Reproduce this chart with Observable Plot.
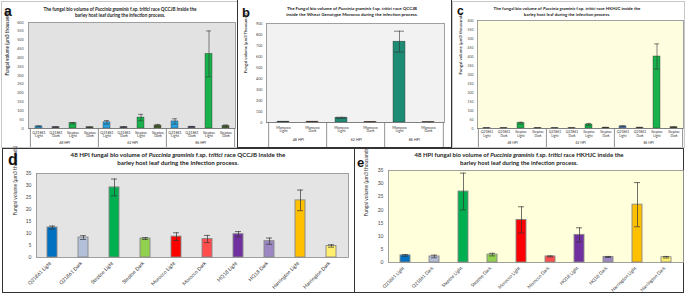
<!DOCTYPE html>
<html><head><meta charset="utf-8">
<script src="https://cdn.jsdelivr.net/npm/d3@7"></script>
<script src="https://cdn.jsdelivr.net/npm/@observablehq/plot@0.6"></script>
<style>
body{margin:0;background:#fff;}
#fig{position:relative;width:685px;height:294px;overflow:hidden;background:#fff;font-family:Lato,"Open Sans",sans-serif;}
.panel{position:absolute;box-sizing:border-box;overflow:hidden;}
.ttl{position:absolute;text-align:center;font-weight:bold;white-space:nowrap;color:#222;font-family:Lato,sans-serif;line-height:1.35;transform:translateX(-50%);}
.lbl{position:absolute;font-family:"Liberation Sans",Arial,sans-serif;font-weight:bold;color:#111;line-height:1;}
.chart{position:absolute;}
</style></head><body><div id="fig"></div>
<script>
// ---------- data ----------
const hpiGroups = ["48 HPI", "62 HPI", "86 HPI"];
const barleyCats = ["Q21861 Light", "Q21861 Dark", "Steptoe Light", "Steptoe Dark"];
const moroccoCats = ["Morocco Light", "Morocco Dark"];
// panel a (QCCJB in barley), order: group x category
const aMean = [12, 8, 30, 7,   35, 8, 62, 17,   40, 10, 422, 15];
const aErr  = [2, 1, 4, 1,     10, 2, 18, 6,    15, 2, 130, 5];
const aTicks = [0, 50, 100, 150, 200, 250, 300, 350, 400, 450, 500, 550, 600];
// panel b (QCCJB in Morocco)
const bMean = [8, 8,   42, 5,   735, 3];
const bErr  = [1, 1,   6, 1,    95, 1];
const bTicks = [0, 100, 200, 300, 400, 500, 600, 700, 800, 900];
// panel c (HKHJC in barley)
const cMean = [2, 2, 30, 2,   2, 2, 22, 5,   12, 5, 400, 7];
const cErr  = [0.5, 0.5, 5, 0.5,   0.5, 0.5, 6, 1,   2, 1, 70, 1.5];
const cTicks = aTicks;
// panels d, e (48 HPI)
const genotypes = ["Q21861 Light", "Q21861 Dark", "Steptoe Light", "Steptoe Dark", "Morocco Light", "Morocco Dark", "HQ18 Light", "HQ18 Dark", "Harrington Light", "Harrington Dark"];
const dMean = [12.5, 8.3, 29.2, 7.9, 8.7, 7.7, 9.7, 6.8, 23.8, 4.8];
const dErr  = [0.6, 0.8, 3.5, 0.4, 1.6, 1.5, 1.1, 1.3, 4.3, 0.5];
const eMean = [2.7, 2.3, 27.0, 3.0, 16.2, 2.3, 10.5, 2.1, 22.0, 2.0];
const eErr  = [0.3, 0.5, 7.0, 0.5, 5.0, 0.2, 2.7, 0.2, 8.4, 0.3];
const deTicks = [0, 5, 10, 15, 20, 25, 30, 35];

// ---------- styles ----------
const aColors = ["#29a3e0", "#6e5e80", "#18b14b", "#4d6b34"];
const bColors = ["#1e8c74", "#c85a20"];
const cColors = ["#4f81bd", "#8c6a3c", "#18b14b", "#4b5b2b"];
const deColors = ["#0070c0", "#b4bfd9", "#00b050", "#92d050", "#ff0000", "#ff4d4d", "#7030a0", "#9d87c2", "#ffc000", "#ffef6e"];
const FONT = "Lato, 'Open Sans', sans-serif";

const fig = document.getElementById("fig");
function addDiv(cls, css, html) {
  const d = document.createElement("div");
  d.className = cls; Object.assign(d.style, css); d.innerHTML = html || "";
  fig.appendChild(d); return d;
}
function place(svg, left, top) {
  svg.classList.add("chart");
  svg.style.left = left + "px"; svg.style.top = top + "px";
  fig.appendChild(svg);
}

function grouped(o) {
  const rows = [];
  o.groups.forEach((g, gi) => o.cats.forEach((c, ci) => {
    const i = gi * o.cats.length + ci;
    rows.push({key: g + "|" + c, g, c, v: o.mean[i], e: o.err[i]});
  }));
  const keys = rows.map(r => r.key);
  const step = (o.width - o.ml - o.mr) / keys.length;
  const firsts = o.groups.map(g => keys.find(k => k.startsWith(g + "|")));
  const mids = o.groups.map(g => keys.filter(k => k.startsWith(g + "|"))[o.cats.length / 2 - 1]);
  const lastKey = [keys[keys.length - 1]];
  return Plot.plot({
    width: o.width, height: o.height,
    marginLeft: o.ml, marginRight: o.mr, marginTop: o.mt, marginBottom: o.mb,
    style: {fontFamily: FONT, background: "transparent", overflow: "visible", color: "#333"},
    x: {domain: keys, axis: null, paddingInner: 0.6, paddingOuter: 0.3},
    y: {domain: [0, o.ymax], axis: null},
    color: {domain: o.cats, range: o.colors},
    marks: [
      Plot.frame({fill: o.bg, stroke: "#8a8a8a", strokeWidth: 0.8}),
      Plot.text(o.ticks, {x: null, y: d => d, frameAnchor: "left", textAnchor: "end", dx: -o.tickPad, fontSize: o.fs, fill: "#444"}),
      Plot.barY(rows, {x: "key", y: "v", fill: "c", stroke: "#333", strokeWidth: 0.4}),
      Plot.ruleX(rows, {x: "key", y1: d => d.v - d.e, y2: d => d.v + d.e, stroke: "#333", strokeWidth: 0.6}),
      Plot.tickY(rows, {x: "key", y: d => d.v + d.e, stroke: "#333", strokeWidth: 0.6, insetLeft: 1, insetRight: 1}),
      Plot.tickY(rows, {x: "key", y: d => d.v - d.e, stroke: "#333", strokeWidth: 0.6, insetLeft: 1, insetRight: 1}),
      Plot.ruleY([0], {stroke: "#777", strokeWidth: 0.8}),
      Plot.text(rows, {x: "key", y: 0, text: d => d.c.replace(" ", "\n"), lineAnchor: "top", dy: o.catDy, fontSize: o.fs, fill: "#333"}),
      Plot.text(o.groups, {x: (d, i) => mids[i], y: 0, dx: o.cats.length % 2 === 0 ? step / 2 : 0, dy: o.grpDy, lineAnchor: "top", fontSize: o.fs, fill: "#333"}),
      Plot.ruleX(firsts, {x: d => d, y1: 0, y2: 0, dx: -step / 2, insetBottom: -o.divExt, stroke: "#777", strokeWidth: 0.8}),
      Plot.ruleX(lastKey, {x: d => d, y1: 0, y2: 0, dx: step / 2, insetBottom: -o.divExt, stroke: "#777", strokeWidth: 0.8}),
      Plot.text([o.ylabel], {frameAnchor: "left", rotate: -90, dx: -o.labOff, fontSize: o.yfs, fontWeight: "bold", fill: "#333"})
    ]
  });
}

function simple(o) {
  const rows = o.cats.map((c, i) => ({c, v: o.mean[i], e: o.err[i]}));
  return Plot.plot({
    width: o.width, height: o.height,
    marginLeft: o.ml, marginRight: o.mr, marginTop: o.mt, marginBottom: o.mb,
    style: {fontFamily: FONT, background: "transparent", overflow: "visible", color: "#333"},
    x: {domain: o.cats, axis: null, paddingInner: 0.67, paddingOuter: 0.335},
    y: {domain: [0, o.ymax], axis: null},
    color: {domain: o.cats, range: o.colors},
    marks: [
      Plot.frame({fill: o.bg, stroke: "#8a8a8a", strokeWidth: 0.8}),
      Plot.text(o.ticks, {x: null, y: d => d, frameAnchor: "left", textAnchor: "end", dx: -o.tickPad, fontSize: o.fs, fill: "#444"}),
      Plot.barY(rows, {x: "c", y: "v", fill: "c", stroke: "#888", strokeWidth: 0.9}),
      Plot.ruleX(rows, {x: "c", y1: d => d.v - d.e, y2: d => d.v + d.e, stroke: "#333", strokeWidth: 0.7}),
      Plot.tickY(rows, {x: "c", y: d => d.v + d.e, stroke: "#333", strokeWidth: 0.7, insetLeft: 2, insetRight: 2}),
      Plot.tickY(rows, {x: "c", y: d => d.v - d.e, stroke: "#333", strokeWidth: 0.7, insetLeft: 2, insetRight: 2}),
      Plot.text(rows, {x: "c", y: 0, text: "c", rotate: -45, textAnchor: "end", dx: -2, dy: 5, fontSize: o.xfs, fill: "#333"}),
      Plot.text([o.ylabel], {frameAnchor: "left", rotate: -90, dx: -o.labOff, fontSize: o.yfs, fill: "#333"})
    ]
  });
}

// ---------- frames ----------
addDiv("panel", {left: "1px", top: "1px", width: "237px", height: "147px", border: "1px solid #c8c8c8"});
addDiv("panel", {left: "452px", top: "1px", width: "233px", height: "147px", border: "1px solid #c8c8c8"});
addDiv("panel", {left: "2px", top: "148px", width: "353px", height: "145px", border: "1px solid #333"});
addDiv("panel", {left: "354px", top: "148px", width: "330px", height: "145px", border: "1px solid #333"});

// ---------- panel a ----------
place(grouped({groups: hpiGroups, cats: barleyCats, mean: aMean, err: aErr, colors: aColors, ticks: aTicks, ymax: 600,
  width: 237, height: 130, ml: 28, mr: 2, mt: 4, mb: 20, bg: "#e2e2e2", fs: 3.6, yfs: 4.6, tickPad: 5, labOff: 21,
  catDy: 2.5, grpDy: 12.5, divExt: 19, ylabel: "Fungal volume (μm3 thousands)"}), 0, 18);

// ---------- panel b (white bg with dark frame, drawn over a's right edge) ----------
addDiv("panel", {left: "237px", top: "0px", width: "215px", height: "148px", border: "1px solid #333", borderTop: "none", background: "#fff"});
place(grouped({groups: hpiGroups, cats: moroccoCats, mean: bMean, err: bErr, colors: bColors, ticks: bTicks, ymax: 900,
  width: 213, height: 130, ml: 29, mr: 6, mt: 5, mb: 26, bg: "#f2f2f2", fs: 3.7, yfs: 4.2, tickPad: 4, labOff: 21,
  catDy: 3.5, grpDy: 16, divExt: 25, ylabel: "Fungal volume (μm3 Thousands)"}), 237, 18);

// ---------- panel c ----------
place(grouped({groups: hpiGroups, cats: barleyCats, mean: cMean, err: cErr, colors: cColors, ticks: cTicks, ymax: 600,
  width: 230, height: 130, ml: 22, mr: 2, mt: 2, mb: 20, bg: "#fefde0", fs: 3.4, yfs: 4.4, tickPad: 4, labOff: 17,
  catDy: 2.5, grpDy: 13, divExt: 19, ylabel: "Fungal volume (μm3 thousands)"}), 455, 18);

// ---------- panel d ----------
place(simple({cats: genotypes, mean: dMean, err: dErr, colors: deColors, ticks: deTicks, ymax: 35,
  width: 353, height: 124, ml: 36, mr: 5, mt: 5, mb: 35, bg: "#e4e4e4", fs: 5, xfs: 5, yfs: 5, tickPad: 5, labOff: 21,
  ylabel: "Fungal volume (μm3 thousands)"}), 0, 168);

// ---------- panel e ----------
place(simple({cats: genotypes, mean: eMean, err: eErr, colors: deColors, ticks: deTicks, ymax: 35,
  width: 330, height: 127, ml: 33, mr: 2, mt: 5, mb: 30, bg: "#ffffdc", fs: 5, xfs: 4.6, yfs: 5, tickPad: 5, labOff: 22,
  ylabel: "Fungal volume (μm3 thousands)"}), 355, 165);

// ---------- titles & letters ----------
addDiv("ttl", {left: "120px", top: "6px", fontSize: "4.6px"},
  "The fungal bio volume of <i>Puccinia graminis</i> f.sp. <i>tritici</i> race QCCJB inside the<br>barley host leaf during the infection process.");
addDiv("ttl", {left: "352px", top: "6px", fontSize: "4.5px"},
  "The Fungal bio volume of <i>Puccinia graminis</i> f.sp. <i>tritici</i> race QCCJB<br>inside the Wheat Genotype Morocco during the infection process.");
addDiv("ttl", {left: "567px", top: "6px", fontSize: "4.4px"},
  "The fungal bio volume of <i>Puccinia graminis</i> f.sp. <i>tritici</i> race HKHJC inside the<br>barley host leaf during the infection process.");
addDiv("ttl", {left: "178px", top: "151px", fontSize: "6.2px"},
  "48 HPI fungal bio volume of <i>Puccinia graminis</i> f.sp. <i>tritici</i> race QCCJB inside the<br>barley host leaf during the infection process.");
addDiv("ttl", {left: "519px", top: "151px", fontSize: "6px"},
  "48 HPI fungal bio volume of <i>Puccinia graminis</i> f.sp. <i>tritici</i> race HKHJC inside the<br>barley host leaf during the infection process.");
addDiv("lbl", {left: "4px", top: "4px", fontSize: "14px"}, "a");
addDiv("lbl", {left: "242px", top: "6px", fontSize: "13px"}, "b");
addDiv("lbl", {left: "457px", top: "5px", fontSize: "12px"}, "c");
addDiv("lbl", {left: "8px", top: "152px", fontSize: "16px"}, "d");
addDiv("lbl", {left: "357px", top: "156px", fontSize: "13px"}, "e");
</script>
</body></html>
